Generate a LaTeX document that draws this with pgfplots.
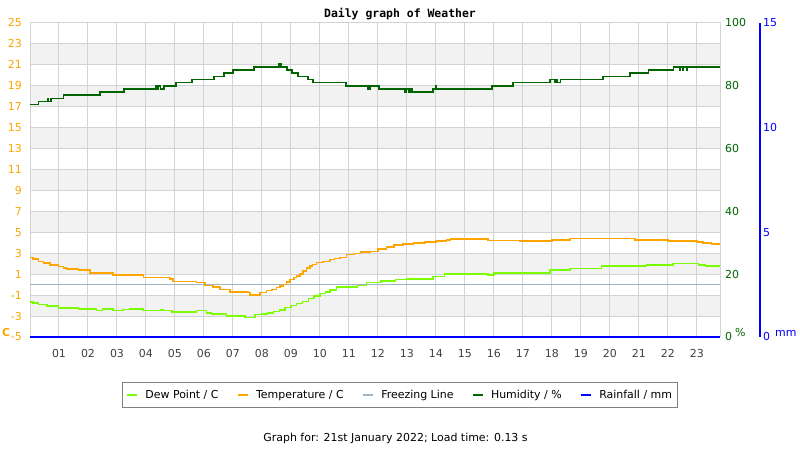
\documentclass[border=0pt]{standalone}
\usepackage{pgfplots}
\pgfplotsset{compat=1.18}
\usepackage{fontspec}
\setmainfont{DejaVu Sans}
\newfontfamily\titlefont{DejaVu Sans Mono}
\definecolor{dewc}{HTML}{7CFC00}
\definecolor{tempc}{HTML}{FFA500}
\definecolor{frzc}{HTML}{A0B4C8}
\definecolor{humc}{HTML}{006400}
\definecolor{rainc}{HTML}{0000FF}
\definecolor{gridc}{HTML}{D3D3D3}
\definecolor{bandc}{HTML}{F2F2F2}
\definecolor{xlab}{HTML}{404040}
\newcommand{\lblfont}{\fontsize{11}{13}\selectfont}
\pgfplotsset{band/.style={fill=bandc, draw=none, forget plot, on layer=axis background}}
\begin{document}
\begin{tikzpicture}
% ---------- main axis: temperature / dew point (C) ----------
\begin{axis}[
  set layers,
  at={(30bp,113bp)}, anchor=south west,
  scale only axis, width=690bp, height=314bp,
  xmin=0, xmax=23.8, ymin=-5, ymax=25,
  xtick={1,2,3,4,5,6,7,8,9,10,11,12,13,14,15,16,17,18,19,20,21,22,23},
  xticklabels={01,02,03,04,05,06,07,08,09,10,11,12,13,14,15,16,17,18,19,20,21,22,23},
  ytick={-5,-3,-1,1,3,5,7,9,11,13,15,17,19,21,23,25},
  yticklabels={-5,-3,-1,1,3,5,7,9,11,13,15,17,19,21,23,25},
  major tick length=0pt,
  grid=major, grid style={gridc, line width=1bp},
  axis line style={gridc, line width=1bp},
  yticklabel style={tempc, font=\lblfont, anchor=east, inner sep=0pt, xshift=-8bp},
  xticklabel style={xlab, font=\lblfont, anchor=north, inner sep=0pt, yshift=-12bp},
  /pgf/number format/assume math mode=true,
  legend columns=5,
  legend cell align=left,
  legend style={at={(0.5362,-0.1847)}, anchor=center, draw=gray, line width=1bp,
    fill=white, font=\lblfont, inner xsep=3bp, inner ysep=5.5bp,
    /tikz/every even column/.append style={column sep=16bp},
    /tikz/every odd column/.append style={column sep=5bp}},
  legend image code/.code={\draw[#1, line width=2.5bp] (0bp,0bp) -- (10bp,0bp);},
]
\addplot[band] coordinates {(0,21) (23.8,21) (23.8,23) (0,23)};
\addplot[band] coordinates {(0,17) (23.8,17) (23.8,19) (0,19)};
\addplot[band] coordinates {(0,13) (23.8,13) (23.8,15) (0,15)};
\addplot[band] coordinates {(0,9) (23.8,9) (23.8,11) (0,11)};
\addplot[band] coordinates {(0,5) (23.8,5) (23.8,7) (0,7)};
\addplot[band] coordinates {(0,1) (23.8,1) (23.8,3) (0,3)};
\addplot[band] coordinates {(0,-3) (23.8,-3) (23.8,-1) (0,-1)};
% freezing line
\addplot[frzc, line width=1.4bp, forget plot] coordinates {(0,0) (23.8,0)};
% dew point
\addplot[dewc, line width=1.5bp, const plot] coordinates {
(0,-1.68) (0.1,-1.74) (0.29,-1.9) (0.58,-2.06) (0.98,-2.23) (1.67,-2.32)
(2.3,-2.45) (2.5,-2.32) (2.87,-2.48) (3.2,-2.39) (3.45,-2.32) (3.9,-2.48)
(4.5,-2.42) (4.6,-2.48) (4.9,-2.61) (5.75,-2.48) (6.09,-2.71) (6.26,-2.81)
(6.78,-2.97) (7.41,-3.13) (7.76,-2.87) (8.0,-2.78) (8.2,-2.7) (8.4,-2.55)
(8.6,-2.4) (8.8,-2.2) (9.0,-2.0) (9.2,-1.8) (9.4,-1.6) (9.6,-1.3) (9.8,-1.1)
(10.0,-0.85) (10.2,-0.7) (10.34,-0.52) (10.57,-0.23) (10.9,-0.2) (11.3,-0.1)
(11.6,0.19) (12.1,0.35) (12.6,0.48) (13.0,0.52) (13.9,0.77) (14.3,1.0)
(15.8,0.92) (16.0,1.1) (17.93,1.42) (18.62,1.55) (19.71,1.77) (21.26,1.9)
(22.18,2.03) (23.05,1.9) (23.3,1.77) (23.8,1.77)};
\addlegendentry{Dew Point / C}
% temperature
\addplot[tempc, line width=1.5bp, const plot] coordinates {
(0,2.61) (0.1,2.45) (0.29,2.23) (0.46,2.06) (0.69,1.9) (0.98,1.74) (1.15,1.58)
(1.26,1.48) (1.67,1.39) (2.07,1.1) (2.87,0.9) (3.91,0.68) (4.83,0.52) (4.94,0.29)
(5.75,0.19) (6.03,-0.06) (6.32,-0.23) (6.55,-0.45) (6.9,-0.68) (7.53,-0.75)
(7.59,-0.97) (7.93,-0.77) (8.16,-0.55) (8.35,-0.45) (8.5,-0.29) (8.62,-0.15)
(8.74,0.03) (8.85,0.25) (8.97,0.5) (9.1,0.7) (9.2,0.85) (9.31,1.0) (9.42,1.3)
(9.54,1.6) (9.65,1.8) (9.75,1.95) (9.89,2.1) (10.1,2.2) (10.34,2.39) (10.5,2.5)
(10.7,2.61) (10.92,2.87) (11.2,3.0) (11.4,3.1) (11.75,3.19) (12.0,3.42)
(12.3,3.58) (12.55,3.81) (12.87,3.9) (13.22,4.0) (13.62,4.06) (14.0,4.16)
(14.37,4.26) (14.5,4.35) (15.8,4.23) (16.9,4.16) (18.0,4.29) (18.62,4.39)
(20.86,4.29) (22.0,4.19) (23.0,4.1) (23.22,3.97) (23.5,3.87) (23.8,3.87)};
\addlegendentry{Temperature / C}
\addlegendimage{frzc, line width=1.4bp}
\addlegendentry{Freezing Line}
\addlegendimage{humc, line width=1.5bp}
\addlegendentry{Humidity / \%}
\addlegendimage{rainc, line width=1.5bp}
\addlegendentry{Rainfall / mm}
\end{axis}
% ---------- humidity axis (%) ----------
\begin{axis}[
  at={(30bp,113bp)}, anchor=south west,
  scale only axis, width=690bp, height=314bp,
  xmin=0, xmax=23.8, ymin=0, ymax=100,
  hide x axis, axis y line*=right,
  y axis line style={draw=none},
  ytick={0,20,40,60,80,100},
  yticklabels={0,20,40,60,80,100},
  major tick length=0pt,
  yticklabel style={humc, font=\lblfont, anchor=west, inner sep=0pt, xshift=5bp},
]
\addplot[humc, line width=1.5bp, const plot] coordinates {
(0,74) (0.3,75) (0.62,76) (0.64,75) (0.70,76) (0.72,75) (0.75,76) (1.15,77)
(2.41,78) (3.24,79) (4.33,80) (4.36,79) (4.42,80) (4.5,79) (4.63,80) (5.03,81)
(5.59,82) (6.34,83) (6.69,84) (7.0,85) (7.72,86) (8.58,87) (8.66,86) (8.86,85)
(9.03,84) (9.24,83) (9.59,82) (9.76,81) (10.9,80) (11.66,79) (11.72,80)
(12.03,79) (12.93,78) (12.98,79) (13.05,78) (13.1,79) (13.17,78) (13.9,79)
(13.98,80) (14.02,79) (15.93,80) (16.66,81) (17.93,82) (18.1,81) (18.15,82)
(18.2,81) (18.3,82) (19.76,83) (20.69,84) (21.34,85) (22.2,86) (22.41,85)
(22.44,86) (22.5,85) (22.53,86) (22.65,85) (22.68,86) (23.8,86)};
\end{axis}
% ---------- rainfall axis (mm) ----------
\begin{axis}[
  at={(30bp,113bp)}, anchor=south west,
  scale only axis, width=730bp, height=314bp,
  xmin=0, xmax=25.1768, ymin=0, ymax=15,
  hide x axis, axis y line*=right,
  y axis line style={rainc, line width=1.2bp},
  ytick={0,5,10,15},
  yticklabels={0,5,10,15},
  major tick length=0pt,
  yticklabel style={rainc, font=\lblfont, anchor=west, inner sep=0pt, xshift=3bp},
  clip=false,
]
\addplot[rainc, line width=1.3bp] coordinates {(0,0) (23.8,0)};
\end{axis}
% ---------- unit labels, title, footer ----------
\node[anchor=base west, inner sep=0pt, text=tempc, font=\lblfont\bfseries] at (2bp,113bp) {C};
\node[anchor=base west, inner sep=0pt, text=humc, font=\lblfont] at (735bp,113bp) {\%};
\node[anchor=base west, inner sep=0pt, text=rainc, font=\lblfont] at (775bp,113bp) {mm};
\node[anchor=base, inner sep=0pt, font=\titlefont\bfseries\fontsize{11.5}{13}\selectfont] at (400bp,432bp) {Daily graph of Weather};
\node[anchor=base, inner sep=0pt, font=\lblfont] at (395.5bp,8.5bp) {Graph for: 21st January 2022; Load time: 0.13 s};
\path (0,0) rectangle (800bp,450bp);
\end{tikzpicture}
\end{document}
